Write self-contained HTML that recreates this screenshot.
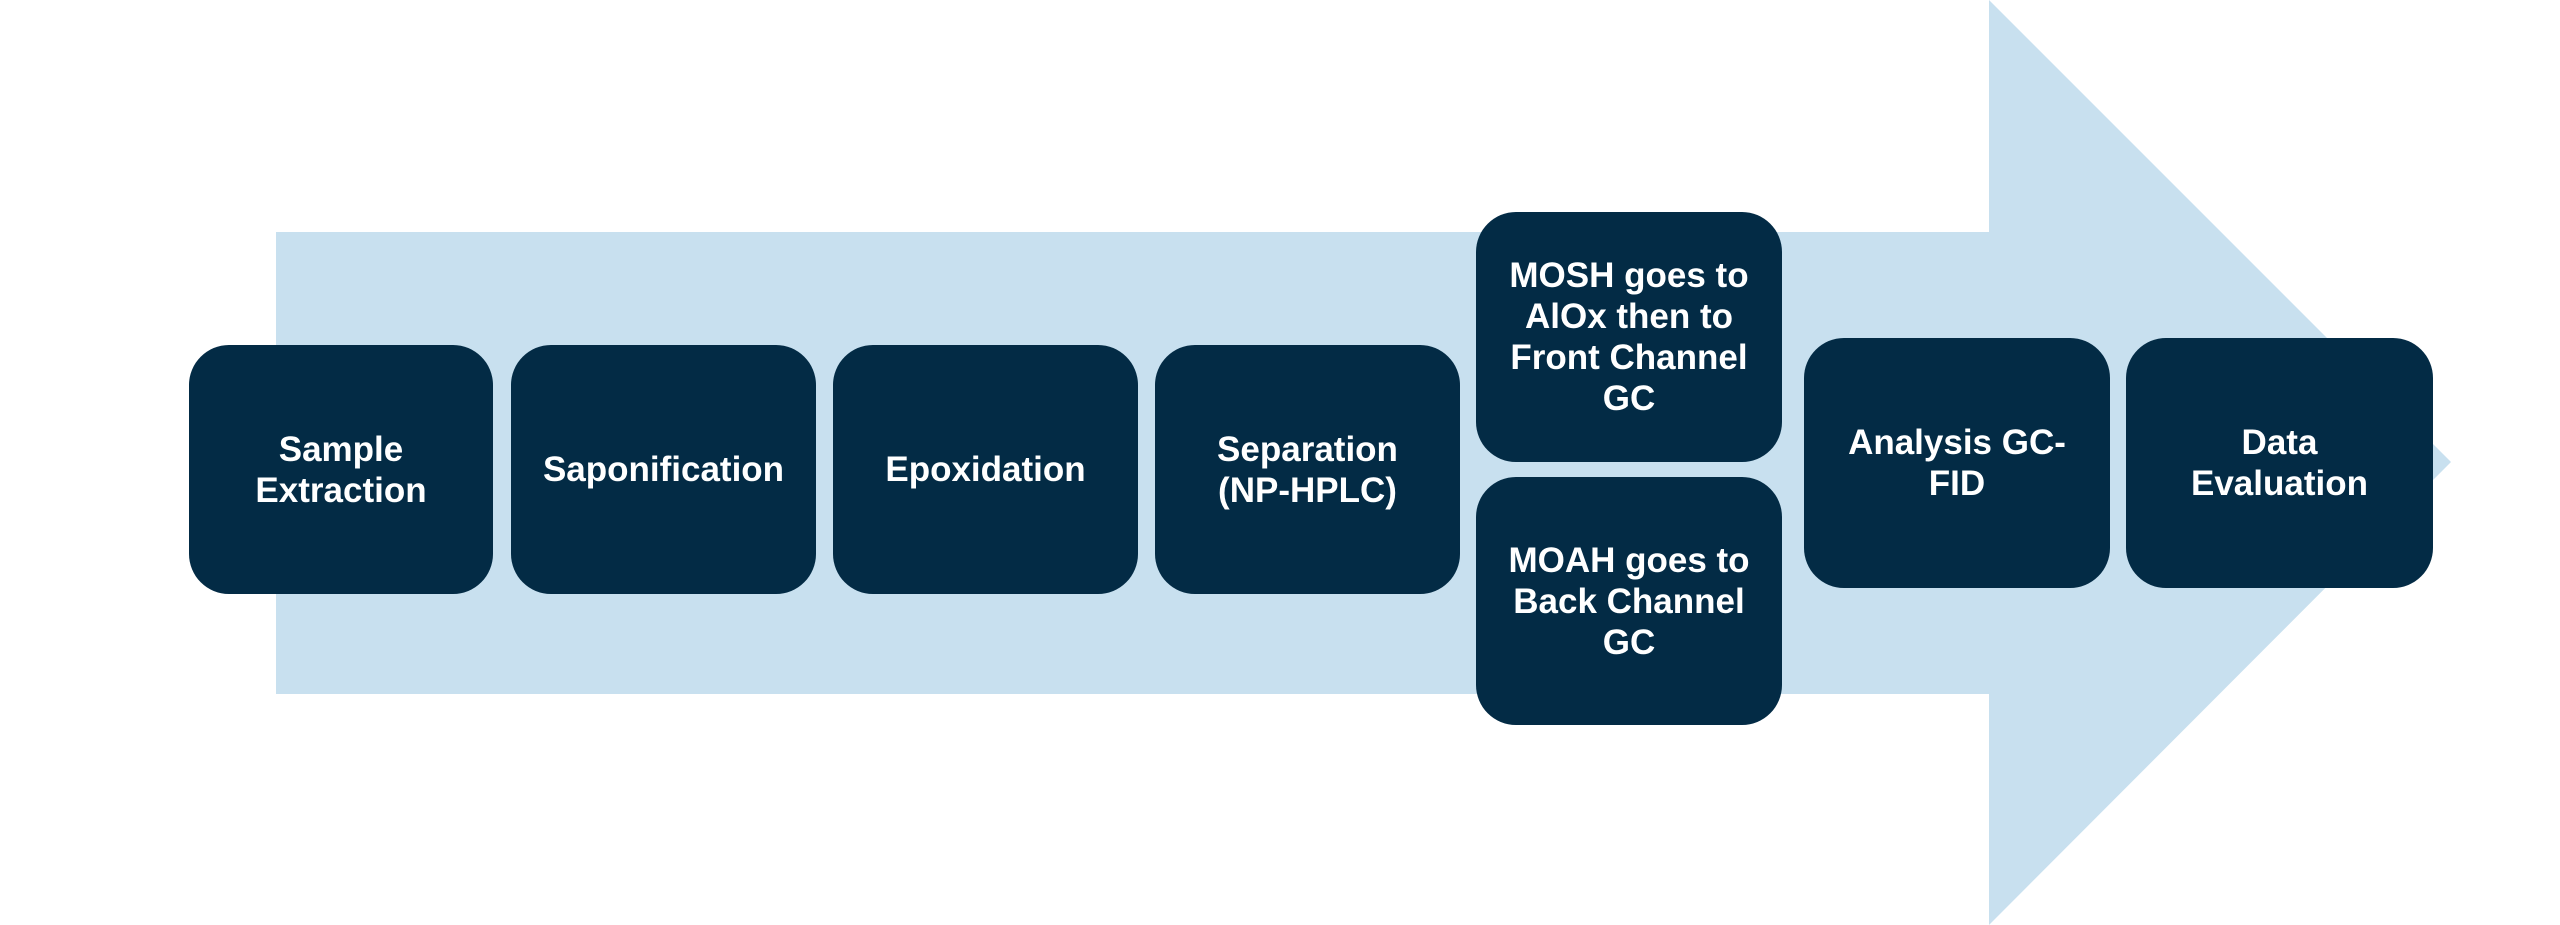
<!DOCTYPE html>
<html><head><meta charset="utf-8"><style>
html,body{margin:0;padding:0;background:#fff;}
body{width:2560px;height:925px;position:relative;overflow:hidden;font-family:"Liberation Sans",sans-serif;}
.b{position:absolute;background:#032b45;border-radius:40px;color:#fff;font-weight:bold;font-size:35px;line-height:41px;display:flex;align-items:center;justify-content:center;text-align:center;}
</style></head><body>
<svg width="2560" height="925" style="position:absolute;left:0;top:0">
<polygon points="276,232 1989,232 1989,0 2451,462 1989,925 1989,694 276,694" fill="#c8e0ef"/>
</svg>
<div class="b" style="left:189px;top:345px;width:304px;height:249px">Sample<br>Extraction</div>
<div class="b" style="left:511px;top:345px;width:305px;height:249px">Saponification</div>
<div class="b" style="left:833px;top:345px;width:305px;height:249px">Epoxidation</div>
<div class="b" style="left:1155px;top:345px;width:305px;height:249px">Separation<br>(NP-HPLC)</div>
<div class="b" style="left:1476px;top:212px;width:306px;height:250px">MOSH goes to<br>AlOx then to<br>Front Channel<br>GC</div>
<div class="b" style="left:1476px;top:477px;width:306px;height:248px">MOAH goes to<br>Back Channel<br>GC</div>
<div class="b" style="left:1804px;top:338px;width:306px;height:250px">Analysis GC-<br>FID</div>
<div class="b" style="left:2126px;top:338px;width:307px;height:250px">Data<br>Evaluation</div>
</body></html>
